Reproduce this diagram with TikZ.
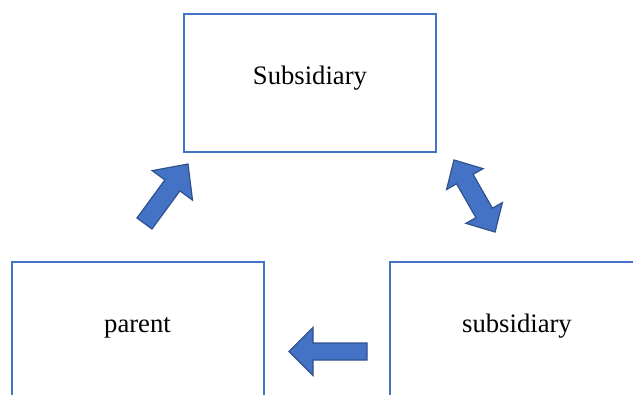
\documentclass[tikz,border=0pt]{standalone}
\usepackage{fontspec}
\setmainfont{Liberation Serif}
\definecolor{boxblue}{HTML}{4472C4}
\definecolor{arrowedge}{HTML}{2F528F}
% single block arrow: centre, angle, length, shaft width, head width, head length
\newcommand{\singleblock}[6]{%
  \begin{scope}[shift={#1},rotate=#2]
    \filldraw[blockarrow]
      ({-#3/2},{-#4/2}) -- ({#3/2-#6},{-#4/2}) -- ({#3/2-#6},{-#5/2})
      -- ({#3/2},0) -- ({#3/2-#6},{#5/2}) -- ({#3/2-#6},{#4/2})
      -- ({-#3/2},{#4/2}) -- cycle;
  \end{scope}}
% double block arrow: centre, angle, length, shaft width, head width, head length
\newcommand{\doubleblock}[6]{%
  \begin{scope}[shift={#1},rotate=#2]
    \filldraw[blockarrow]
      ({-#3/2},0) -- ({-#3/2+#6},{-#5/2}) -- ({-#3/2+#6},{-#4/2})
      -- ({#3/2-#6},{-#4/2}) -- ({#3/2-#6},{-#5/2}) -- ({#3/2},0)
      -- ({#3/2-#6},{#5/2}) -- ({#3/2-#6},{#4/2})
      -- ({-#3/2+#6},{#4/2}) -- ({-#3/2+#6},{#5/2}) -- cycle;
  \end{scope}}
\begin{document}
\begin{tikzpicture}[x=0.75pt,y=-0.75pt,
  entity/.style={draw=boxblue,line width=1.5pt,minimum width=252*0.75pt,
    minimum height=138*0.75pt,inner sep=0pt},
  caption/.style={font=\fontsize{20}{24}\selectfont,inner sep=0pt,anchor=base},
  blockarrow/.style={fill=boxblue,draw=arrowedge,line width=0.9pt,line join=miter}]
  \clip (0,0) rectangle (633,394);
  \fill[white] (0,0) rectangle (633,394);

  % the three companies
  \node[entity] (top) at (310,83) {};
  \node[entity] (parent) at (137.5,331) {};
  \node[entity] (sub) at (516,331) {};
  \node[caption] (toplbl) at (310,84) {Subsidiary};
  \node[caption] (parentlbl) at (137.5,332) {parent};
  \node[caption] (sublbl) at (517,332) {subsidiary};

  % relations between them
  \singleblock{(166.25,193.75)}{53.8}{73.7}{18.6}{50}{26.5}
  \doubleblock{(474.5,196)}{-60.3}{83}{19}{42}{22}
  \singleblock{(328,351.5)}{180}{78}{17}{48}{24}
\end{tikzpicture}
\end{document}
